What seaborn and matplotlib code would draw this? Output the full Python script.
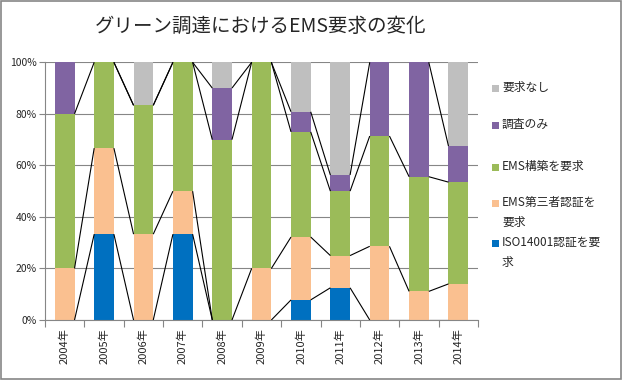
import numpy as np
import pandas as pd
import matplotlib
matplotlib.use("Agg")
import matplotlib.pyplot as plt
import seaborn as sns
from matplotlib.patches import Rectangle

# ---- data (percent of respondents) ----
years = ["2004年", "2005年", "2006年", "2007年", "2008年", "2009年",
         "2010年", "2011年", "2012年", "2013年", "2014年"]
iso14001 = [0, 33.3, 0, 33.3, 0, 0, 7.8, 12.5, 0, 0, 0]
ems_third = [20, 33.4, 33.3, 16.7, 0, 20, 24.4, 12.5, 28.6, 11.1, 14.0]
ems_build = [60, 33.3, 50, 50, 70, 80, 40.8, 25, 42.8, 44.5, 39.5]
survey_only = [20, 0, 0, 0, 20, 0, 7.8, 6.25, 28.6, 44.4, 14.0]
no_request = [0, 0, 16.7, 0, 10, 0, 19.2, 43.75, 0, 0, 32.5]

series_names = ["ISO14001認証を要\n求", "EMS第三者認証を\n要求", "EMS構築を要求",
                "調査のみ", "要求なし"]
colors = ["#0070C0", "#FAC090", "#9BBB59", "#8064A2", "#BFBFBF"]
title = "グリーン調達におけるEMS要求の変化"

sns.set_style("white")
plt.rcParams["font.family"] = ["Noto Sans CJK JP", "DejaVu Sans"]

fig = plt.figure(figsize=(6.22, 3.80), dpi=100)
W, H = 622, 380
ax = fig.add_axes([45 / W, 1 - 320 / H, (478 - 45) / W, (320 - 62.3) / H])

vals = np.array([iso14001, ems_third, ems_build, survey_only, no_request])
cum = np.cumsum(vals, axis=0)

bar_w = 0.5
for k in reversed(range(len(vals))):
    sns.barplot(x=years, y=cum[k], order=years, color=colors[k], width=bar_w,
                saturation=1, errorbar=None, edgecolor="none", linewidth=0,
                ax=ax)

# series lines (Excel style); segments lying on the 100% line merge into the grid
for k in range(len(vals) - 1):
    for i in range(len(years) - 1):
        y0, y1 = cum[k, i], cum[k, i + 1]
        if y0 > 99.9 and y1 > 99.9:
            continue
        ax.plot([i + bar_w / 2, i + 1 - bar_w / 2], [y0, y1],
                color="black", lw=0.8, zorder=3, solid_capstyle="butt")

ax.set_xlim(-0.5, len(years) - 0.5)
ax.set_ylim(0, 100)
ax.set_yticks(np.arange(0, 101, 20))
ax.set_yticklabels([f"{v}%" for v in range(0, 101, 20)], fontsize=7.5)
ax.yaxis.grid(True, color="#868686", lw=0.8)
ax.set_axisbelow(True)
ax.set_xlabel("")
ax.set_ylabel("")

ax.set_xticks(range(len(years)))
ax.set_xticklabels(years, rotation=90, fontsize=8)
ax.set_xticks(np.arange(-0.5, len(years), 1.0), minor=True)
ax.tick_params(axis="x", which="major", length=0, pad=6)
ax.tick_params(axis="x", which="minor", length=5, color="#868686", width=0.8,
               direction="out", bottom=True)
ax.tick_params(axis="y", length=4, color="#868686", width=0.8,
               direction="out", left=True, pad=2)

for s in ["top", "right"]:
    ax.spines[s].set_visible(False)
for s in ["left", "bottom"]:
    ax.spines[s].set_color("#868686")
    ax.spines[s].set_linewidth(0.8)

# title
fig.text(261 / W, 1 - 26 / H, title, ha="center", va="center", fontsize=14)

# legend (manual, Excel layout)
leg_y = [88, 125, 167, 203, 243]  # top-to-bottom, first line centres
order = [4, 3, 2, 1, 0]
for yy, k in zip(leg_y, order):
    fig.patches.append(Rectangle(((492) / W, 1 - (yy + 4) / H), 7 / W, 7 / H,
                                 transform=fig.transFigure,
                                 facecolor=colors[k], edgecolor="none"))
    fig.text(502 / W, 1 - (yy - 7) / H, series_names[k], ha="left", va="top",
             fontsize=8.5, linespacing=1.65)

# chart border
fig.patches.append(Rectangle((0.6 / W, 0.6 / H), 1 - 1.8 / W, 1 - 1.8 / H,
                             transform=fig.transFigure, fill=False,
                             edgecolor="#868686", lw=1.2))

fig.savefig("out.png", dpi=100)
